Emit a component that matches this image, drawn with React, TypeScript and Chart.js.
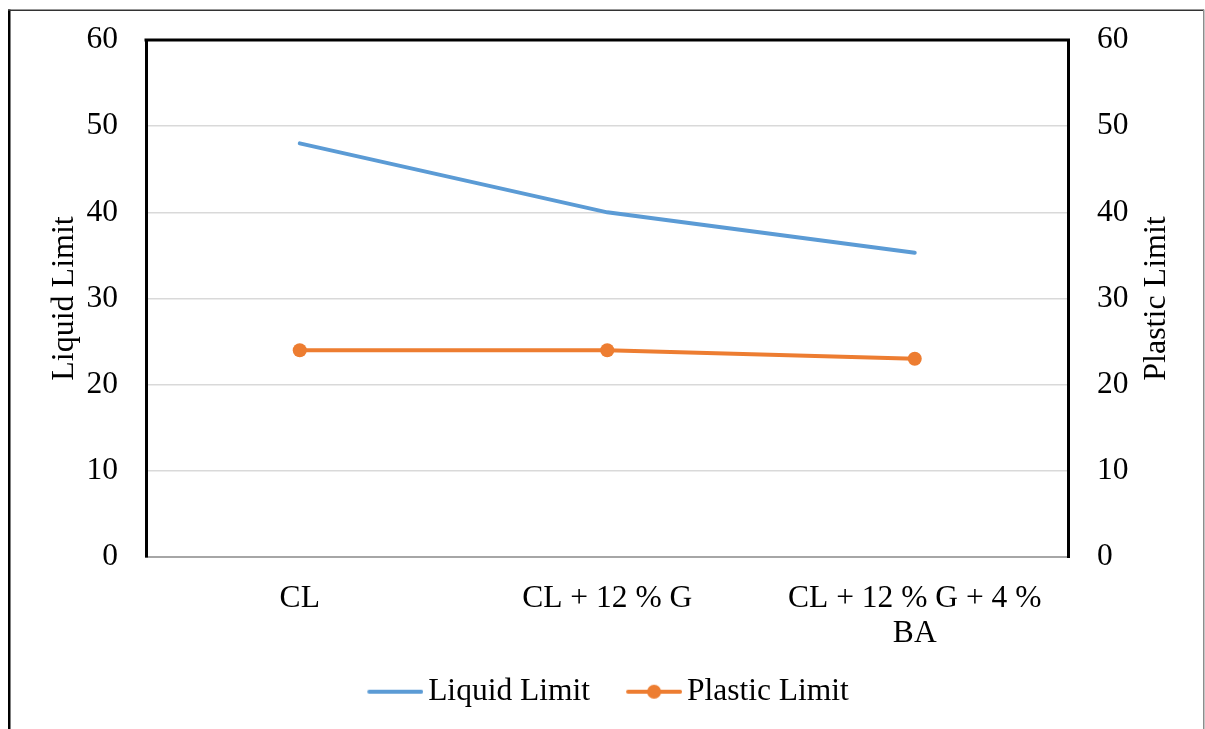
import { useEffect, useRef } from 'react';
import { Chart, registerables } from 'chart.js';

Chart.register(...registerables);

// Soil consistency limits for the three mixes
const categories: (string | string[])[] = ['CL', 'CL + 12 % G', ['CL + 12 % G + 4 %', 'BA']];
const liquidLimit = [48, 40, 35.3];
const plasticLimit = [24, 24, 23];
const axisMin = 0;
const axisMax = 60;
const axisStep = 10;
const leftTitle = 'Liquid Limit';
const rightTitle = 'Plastic Limit';

const BLUE = '#5B9BD5';
const ORANGE = '#ED7D31';
const FONT = '"Liberation Serif", "Times New Roman", serif';
const TICK_SIZE = 31.5;
const SWATCH_BOX = 56.25;

// Legend swatch: a line (optionally with a marker) sitting in the right part of the image,
// so that it lines up just before the legend text
function legendSwatch(color: string, withDot: boolean): HTMLCanvasElement {
  const c = document.createElement('canvas');
  c.width = 78;
  c.height = 16;
  const g = c.getContext('2d')!;
  g.strokeStyle = color;
  g.lineWidth = 4;
  g.lineCap = 'round';
  g.beginPath();
  g.moveTo(24, 8);
  g.lineTo(76, 8);
  g.stroke();
  if (withDot) {
    g.fillStyle = color;
    g.beginPath();
    g.arc(50, 8, 7, 0, Math.PI * 2);
    g.fill();
  }
  return c;
}

// Plot box top edge, outer frame and the two rotated axis titles
const framePlugin = {
  id: 'frame',
  afterDraw(chart: any) {
    const { ctx, chartArea: a } = chart;
    ctx.save();
    ctx.strokeStyle = '#000';
    ctx.lineWidth = 3;
    ctx.beginPath();
    ctx.moveTo(a.left - 1.5, a.top);
    ctx.lineTo(a.right + 1.5, a.top);
    ctx.stroke();

    ctx.fillStyle = '#000';
    ctx.fillRect(8, 9.5, 2.5, 730);
    ctx.fillStyle = '#333';
    ctx.fillRect(8, 9.5, 1196, 1.5);
    ctx.fillStyle = '#8c8c8c';
    ctx.fillRect(1203, 9.5, 1.5, 730);

    const midY = (a.top + a.bottom) / 2;
    ctx.fillStyle = '#000';
    ctx.font = `32px ${FONT}`;
    ctx.textAlign = 'center';
    ctx.textBaseline = 'alphabetic';
    ctx.save();
    ctx.translate(73, midY);
    ctx.rotate(-Math.PI / 2);
    ctx.fillText(leftTitle, 0, 0);
    ctx.restore();
    ctx.save();
    ctx.translate(1165, midY);
    ctx.rotate(-Math.PI / 2);
    ctx.fillText(rightTitle, 0, 0);
    ctx.restore();
    ctx.restore();
  },
};

export default function App() {
  const canvasRef = useRef<HTMLCanvasElement | null>(null);

  useEffect(() => {
    const canvas = canvasRef.current;
    if (!canvas) return;
    const swatches = [legendSwatch(BLUE, false), legendSwatch(ORANGE, true)];
    const gridColor = (c: any) =>
      c.tick && (c.tick.value === axisMin || c.tick.value === axisMax) ? 'rgba(0,0,0,0)' : '#d9d9d9';

    const chart = new Chart(canvas, {
      type: 'line',
      data: {
        labels: categories,
        datasets: [
          {
            label: 'Liquid Limit',
            data: liquidLimit,
            borderColor: BLUE,
            backgroundColor: BLUE,
            borderWidth: 4,
            borderCapStyle: 'round',
            pointRadius: 0,
            tension: 0,
            yAxisID: 'y',
          },
          {
            label: 'Plastic Limit',
            data: plasticLimit,
            borderColor: ORANGE,
            backgroundColor: ORANGE,
            borderWidth: 4,
            borderCapStyle: 'round',
            pointRadius: 7,
            pointBorderWidth: 0,
            pointBackgroundColor: ORANGE,
            tension: 0,
            yAxisID: 'y1',
          },
        ],
      },
      options: {
        responsive: false,
        animation: false,
        devicePixelRatio: 1,
        layout: { padding: { top: 40, left: 0, right: 0, bottom: 11.5 } },
        plugins: {
          tooltip: { enabled: false },
          legend: {
            position: 'bottom',
            labels: {
              usePointStyle: true,
              pointStyleWidth: SWATCH_BOX,
              padding: 25,
              color: '#000',
              font: { family: FONT, size: TICK_SIZE },
              generateLabels: (ch: any) =>
                Chart.defaults.plugins.legend.labels
                  .generateLabels(ch)
                  .map((item: any, i: number) => ({ ...item, pointStyle: swatches[i] })),
            },
          },
        },
        scales: {
          x: {
            offset: true,
            grid: { display: false, drawTicks: false },
            border: { color: '#a6a6a6', width: 2 },
            ticks: {
              color: '#000',
              padding: 24,
              maxRotation: 0,
              autoSkip: false,
              font: { family: FONT, size: TICK_SIZE, lineHeight: 1.12 },
            },
            afterFit: (s: any) => {
              s.height = 94;
            },
          },
          y: {
            position: 'left',
            min: axisMin,
            max: axisMax,
            ticks: {
              stepSize: axisStep,
              color: '#000',
              padding: 28,
              font: { family: FONT, size: TICK_SIZE },
            },
            grid: { color: gridColor, lineWidth: 1.5, drawTicks: false },
            border: { color: '#000', width: 3 },
            afterFit: (s: any) => {
              s.width = 146;
              s.paddingTop = 0;
              s.paddingBottom = 0;
            },
          },
          y1: {
            position: 'right',
            min: axisMin,
            max: axisMax,
            ticks: {
              stepSize: axisStep,
              color: '#000',
              padding: 28.5,
              font: { family: FONT, size: TICK_SIZE },
            },
            grid: { drawOnChartArea: false, drawTicks: false },
            border: { color: '#000', width: 3 },
            afterFit: (s: any) => {
              s.width = 136.5;
              s.paddingTop = 0;
              s.paddingBottom = 0;
            },
          },
        },
      } as any,
      plugins: [framePlugin],
    });
    return () => chart.destroy();
  }, []);

  return (
    <div style={{ position: 'absolute', left: 0, top: 0, width: 1205, height: 729, background: '#fff' }}>
      <canvas ref={canvasRef} width={1205} height={729} />
    </div>
  );
}
